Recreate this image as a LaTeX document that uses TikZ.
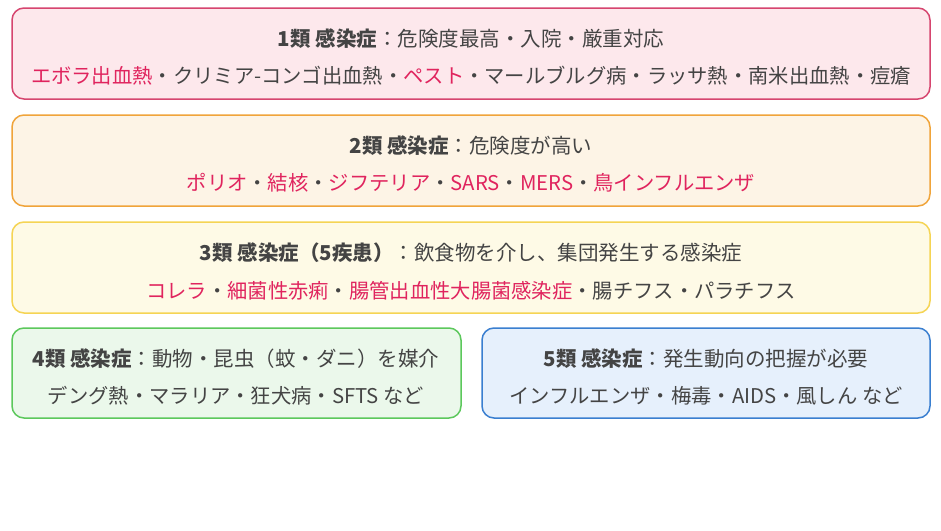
\documentclass[tikz,border=0pt]{standalone}
\usepackage{fontspec}
\setmainfont{Noto Sans CJK JP}
\begin{document}
\begin{tikzpicture}[x=1pt,y=-1pt,
  box/.style={rounded corners=12pt,line width=1.5pt},
  t/.style={font=\fontsize{20.3}{24}\selectfont,text=txt,inner sep=0pt},
  h/.style={font=\fontsize{20.5}{24}\selectfont,text=txt,inner sep=0pt}]
\definecolor{txt}{HTML}{444444}
\definecolor{red1}{HTML}{E0245E}
\definecolor{b1}{HTML}{D6456F}\definecolor{f1}{HTML}{FDE8EC}
\definecolor{b2}{HTML}{F0A43A}\definecolor{f2}{HTML}{FDF4E6}
\definecolor{b3}{HTML}{F5D454}\definecolor{f3}{HTML}{FEFAE6}
\definecolor{b4}{HTML}{5CC85C}\definecolor{f4}{HTML}{EBF8EB}
\definecolor{b5}{HTML}{3A7FD0}\definecolor{f5}{HTML}{E6F0FC}
\useasboundingbox[fill=white] (0,0) rectangle (941,530);
\newcommand{\R}[1]{\textcolor{red1}{#1}}
\draw[box,draw=b1,fill=f1] (12,8) rectangle (930,99);
\draw[box,draw=b2,fill=f2] (12,115) rectangle (930,206);
\draw[box,draw=b3,fill=f3] (12,222) rectangle (930,313);
\draw[box,draw=b4,fill=f4] (12,328) rectangle (461,418);
\draw[box,draw=b5,fill=f5] (482,328) rectangle (930,418);
\node[h] (h1) at (471,39) {\textbf{1類 感染症}：危険度最高・入院・厳重対応};
\node[t] (l1) at (471,76) {\R{エボラ出血熱}・クリミア-コンゴ出血熱・\R{ペスト}・マールブルグ病・ラッサ熱・南米出血熱・痘瘡};
\node[h] (h2) at (471,146) {\textbf{2類 感染症}：危険度が高い};
\node[t] (l2) at (471,183) {\R{ポリオ}・\R{結核}・\R{ジフテリア}・\R{SARS}・\R{MERS}・\R{鳥インフルエンザ}};
\node[h] (h3) at (471,253) {\textbf{3類 感染症（5疾患）}：飲食物を介し、集団発生する感染症};
\node[t] (l3) at (471,291) {\R{コレラ}・\R{細菌性赤痢}・\R{腸管出血性大腸菌感染症}・腸チフス・パラチフス};
\node[h] (h4) at (236,359) {\textbf{4類 感染症}：動物・昆虫（蚊・ダニ）を媒介};
\node[t] (l4) at (236,396) {デング熱・マラリア・狂犬病・SFTS など};
\node[h] (h5) at (706,359) {\textbf{5類 感染症}：発生動向の把握が必要};
\node[t] (l5) at (706,396) {インフルエンザ・梅毒・AIDS・風しん など};
\end{tikzpicture}
\end{document}
